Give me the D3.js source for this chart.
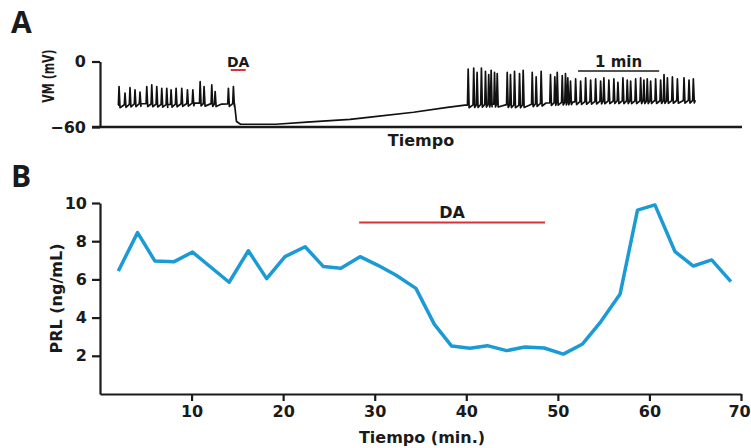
<!DOCTYPE html>
<html>
<head>
<meta charset="utf-8">
<script src="https://cdn.jsdelivr.net/npm/d3@7"></script>
<style>
    body { margin: 0; background: #fff; }
    svg { font-family: "DejaVu Sans", sans-serif; font-weight: 700; fill: #1a1a1a; }
    .axis path, .axis line { stroke: #1a1a1a; stroke-width: 2.2; }
    .axis text { font-family: "DejaVu Sans", sans-serif; font-weight: 700; fill: #1a1a1a; }
    .letter { font-family: "Open Sans", sans-serif; }
</style>
</head>
<body>
<svg id="chart" width="751" height="448"></svg>
<script>
// ---- Panel A: membrane potential trace (time in s, VM in mV) ----
let baseTime = [13.3, 30, 50, 70, 90, 99.5, 101, 104, 130, 153, 185, 200, 232, 257, 270, 290, 310, 330, 350, 380, 410, 440.5];
let baseVolt = [-40, -38.5, -39.5, -38, -39, -38.5, -55, -57.5, -57.5, -55.5, -53, -51, -46.5, -42, -40, -39, -40, -38, -37, -36, -36, -35.5];

let spikeTime = [
    14.1, 18.5, 22.2, 25.9, 29.6, 34.6, 38.3, 42.0, 45.7, 49.4, 52.6, 56.3, 60.5, 64.7, 68.7, 74.1, 77.0, 82.7, 85.2, 95.0, 98.7,
    272.4, 276.5, 279, 282.2, 285.2, 287.6, 289.4, 291.9, 293.9,
    301.3, 303.7, 306.7, 310.4, 313.1, 319.8, 322.7, 326.4,
    333.3, 336.5, 338.3, 342, 344.4, 346.1, 348.1,
    351.9, 355.6, 359.3, 363, 366.7, 370.4, 372.8, 376.5, 380.2, 383.2, 386.9, 390.1, 392.6, 396.3,
    400, 402.4, 404.9, 407.4, 411.1, 414.8, 417.3, 419.8, 423.5, 427.2, 432.1, 435.8, 439
];
let spikePeak = [
    -23, -29, -24, -26, -28, -23, -21.5, -23, -24.5, -24.5, -26, -24.5, -24.5, -26, -26, -18.5, -23, -21.5, -27.5, -24.5, -23,
    -7, -6, -10, -6, -9, -12, -8, -10, -11,
    -10, -12, -9, -11, -8, -10, -14, -9,
    -12, -14, -10, -13, -11, -15, -18,
    -16, -18, -15, -17, -16, -18, -15, -17, -16, -19, -15, -17, -18, -16,
    -15, -17, -16, -18, -16, -17, -12, -15, -14, -16, -15, -17, -16
];

// ---- Panel B: prolactin (time in min, PRL in ng/mL) ----
let prlTime = [2.0, 4.1, 6.0, 8.1, 10.1, 14.1, 16.2, 18.2, 20.2, 22.4, 24.4, 26.3, 28.4, 30.3, 32.3, 34.5, 36.5,
    38.4, 40.4, 42.3, 44.4, 46.4, 48.5, 50.6, 52.7, 54.7, 56.8, 58.7, 60.6, 62.8, 64.8, 66.8, 68.9];
let prlValue = [6.44, 8.45, 6.96, 6.93, 7.43, 5.85, 7.5, 6.04, 7.19, 7.71, 6.67, 6.58, 7.19, 6.75, 6.23, 5.53, 3.66,
    2.51, 2.39, 2.53, 2.27, 2.46, 2.41, 2.09, 2.62, 3.79, 5.24, 9.63, 9.9, 7.45, 6.70, 7.02, 5.88];

let xTicksB = [10, 20, 30, 40, 50, 60, 70];
let yTicksB = [2, 4, 6, 8, 10];
let yTicksA = [0, -60];

let daA = [96.7, 107.8];        // DA application in panel A (s)
let scaleBarA = [353.7, 413.7]; // 1 min scale bar (s)
let daB = [28.3, 48.6];         // DA in panel B (min)

let svg = d3.select("#chart");

// Panel letters
svg.append("text").attr("class", "letter").attr("x", 11).attr("y", 33).style("font-size", "30px").text("A");
svg.append("text").attr("class", "letter").attr("x", 11).attr("y", 187).style("font-size", "30px").text("B");

/*
 * Panel A
 */
let xA = d3.scaleLinear().domain([0, 475]).range([100, 742]);
let yA = d3.scaleLinear().domain([-60, 0]).range([127, 61.5]);
let baseA = d3.scaleLinear().domain(baseTime).range(baseVolt);

let gA = svg.append("g");

// build trace: baseline with spikes riding on it
let tracePts = [];
let si = 0;
baseTime.forEach(function (t, i) {
    while (si < spikeTime.length && spikeTime[si] < t) {
        let ts = spikeTime[si];
        tracePts.push([ts - 0.5, baseA(ts - 0.5)]);
        tracePts.push([ts, spikePeak[si]]);
        tracePts.push([ts + 0.7, baseA(ts + 0.7) - 2.5]);
        si++;
    }
    tracePts.push([t, baseVolt[i]]);
});

gA.append("path")
    .datum(tracePts)
    .attr("fill", "none")
    .attr("stroke", "#111")
    .attr("stroke-width", 1.7)
    .attr("stroke-linejoin", "round")
    .attr("d", d3.line().x(d => xA(d[0])).y(d => yA(d[1])));

gA.append("g")
    .attr("class", "axis")
    .attr("transform", "translate(100,0)")
    .call(d3.axisLeft(yA).tickValues(yTicksA).tickSize(8).tickSizeOuter(0).tickPadding(6))
    .selectAll("text").style("font-size", "16px");

gA.append("line")
    .attr("x1", xA(0) - 8).attr("x2", xA(475))
    .attr("y1", yA(-60)).attr("y2", yA(-60))
    .attr("stroke", "#1a1a1a").attr("stroke-width", 2.6);

gA.append("text")
    .attr("transform", "translate(54,76) rotate(-90) scale(1,1.5)")
    .attr("text-anchor", "middle")
    .style("font-size", "11px")
    .text("VM (mV)");

gA.append("text")
    .attr("x", 421).attr("y", 146)
    .attr("text-anchor", "middle")
    .style("font-size", "16px")
    .text("Tiempo");

// DA marker
gA.append("line")
    .attr("x1", xA(daA[0])).attr("x2", xA(daA[1]))
    .attr("y1", 70).attr("y2", 70)
    .attr("stroke", "#d9303a").attr("stroke-width", 2);
gA.append("text")
    .attr("x", xA((daA[0] + daA[1]) / 2)).attr("y", 66.5)
    .attr("text-anchor", "middle")
    .style("font-size", "14px")
    .text("DA");

// 1 min scale bar
gA.append("line")
    .attr("x1", xA(scaleBarA[0])).attr("x2", xA(scaleBarA[1]))
    .attr("y1", 71).attr("y2", 71)
    .attr("stroke", "#1a1a1a").attr("stroke-width", 1.6);
gA.append("text")
    .attr("x", xA((scaleBarA[0] + scaleBarA[1]) / 2)).attr("y", 66.5)
    .attr("text-anchor", "middle")
    .style("font-size", "15px")
    .text("1 min");

/*
 * Panel B
 */
let xB = d3.scaleLinear().domain([0, 70]).range([100, 741]);
let yB = d3.scaleLinear().domain([0, 10]).range([394, 203]);

let gB = svg.append("g");

gB.append("g")
    .attr("class", "axis")
    .attr("transform", "translate(100,0)")
    .call(d3.axisLeft(yB).tickValues(yTicksB).tickSize(8).tickSizeOuter(0).tickPadding(5))
    .selectAll("text").style("font-size", "16px");

gB.append("g")
    .attr("class", "axis")
    .attr("transform", "translate(0,394)")
    .call(d3.axisBottom(xB).tickValues(xTicksB).tickSize(7).tickSizeOuter(0).tickPadding(5))
    .selectAll("text")
    .style("font-size", "16px")
    .attr("dx", d => d === 70 ? -2 : 0);

gB.append("text")
    .attr("transform", "translate(62," + yB(5) + ") rotate(-90)")
    .attr("text-anchor", "middle")
    .style("font-size", "16px")
    .text("PRL (ng/mL)");

gB.append("text")
    .attr("x", 422).attr("y", 443)
    .attr("text-anchor", "middle")
    .style("font-size", "16px")
    .text("Tiempo (min.)");

gB.append("line")
    .attr("x1", xB(daB[0])).attr("x2", xB(daB[1]))
    .attr("y1", 222.5).attr("y2", 222.5)
    .attr("stroke", "#d9303a").attr("stroke-width", 2.2);
gB.append("text")
    .attr("x", xB((daB[0] + daB[1]) / 2)).attr("y", 218)
    .attr("text-anchor", "middle")
    .style("font-size", "16px")
    .text("DA");

gB.append("path")
    .datum(d3.zip(prlTime, prlValue))
    .attr("fill", "none")
    .attr("stroke", "#1b9ad6")
    .attr("stroke-width", 3.5)
    .attr("stroke-linejoin", "round")
    .attr("d", d3.line().x(d => xB(d[0])).y(d => yB(d[1])));
</script>
</body>
</html>
